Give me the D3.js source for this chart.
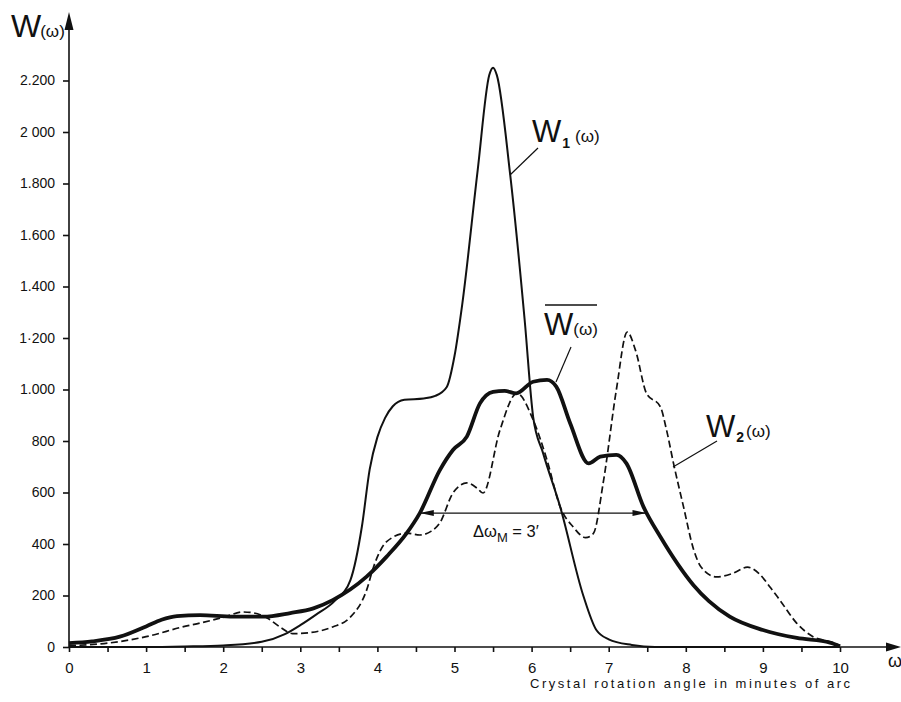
<!DOCTYPE html>
<html>
<head>
<meta charset="utf-8">
<script src="https://cdn.jsdelivr.net/npm/d3@7"></script>
<style>
  body { margin: 0; background: #fff; }
  svg { display: block; }
  text { font-family: "Liberation Sans", "DejaVu Sans", sans-serif; fill: #111; }
</style>
</head>
<body>
<div id="chart"></div>
<script>
// x values (minutes of arc) and intensities
const w1X = [0, 1, 1.5, 2, 2.5, 2.8, 3.0, 3.2, 3.45, 3.65, 3.8, 3.9, 4.0, 4.1, 4.2, 4.35, 4.6, 4.75, 4.9, 5.0, 5.1, 5.3, 5.45, 5.5, 5.55, 5.72, 5.91, 6.02, 6.15, 6.37, 6.67, 6.84, 7.0, 7.3, 7.6, 10]
const w1Y = [0, 0, 2, 6, 20, 50, 85, 125, 180, 260, 470, 690, 815, 890, 935, 960, 965, 975, 1010, 1130, 1330, 1850, 2220, 2250, 2220, 1840, 1270, 894, 752, 545, 200, 66, 30, 8, 0, 0]

const w2X = [0, 0.5, 1.0, 1.5, 1.7, 2.0, 2.26, 2.4, 2.57, 2.75, 2.9, 3.1, 3.42, 3.64, 3.86, 3.95, 4.12, 4.38, 4.55, 4.7, 4.81, 4.98, 5.16, 5.3, 5.37, 5.59, 5.81, 6.02, 6.2, 6.37, 6.54, 6.7, 6.8, 6.93, 7.1, 7.24, 7.35, 7.49, 7.67, 7.75, 7.84, 7.97, 8.1, 8.2, 8.4, 8.6, 8.8, 8.95, 9.1, 9.22, 9.44, 9.65, 9.87, 10]
const w2Y = [5, 15, 40, 80, 93, 115, 136, 132, 113, 75, 52, 55, 78, 113, 221, 311, 409, 442, 435, 450, 482, 598, 637, 615, 598, 843, 985, 882, 726, 545, 466, 425, 440, 640, 1000, 1223, 1150, 985, 933, 843, 714, 545, 380, 310, 272, 285, 310, 285, 230, 182, 92, 40, 20, 5]

const wbX = [0, 0.3, 0.66, 1.0, 1.2, 1.4, 1.7, 2.13, 2.52, 2.87, 3.17, 3.42, 3.86, 4.12, 4.38, 4.55, 4.81, 4.98, 5.16, 5.33, 5.5, 5.65, 5.8, 6.02, 6.2, 6.32, 6.5, 6.74, 6.89, 7.1, 7.23, 7.45, 7.67, 7.9, 8.1, 8.3, 8.57, 9.0, 9.44, 9.87, 10]
const wbY = [15, 22, 40, 80, 106, 120, 124, 118, 118, 132, 150, 182, 273, 351, 442, 520, 687, 765, 817, 946, 991, 995, 985, 1030, 1037, 1011, 869, 713, 739, 746, 713, 545, 428, 320, 240, 178, 118, 66, 35, 17, 3]

const yTicks = [0, 200, 400, 600, 800, 1000, 1200, 1400, 1600, 1800, 2000, 2200]
const yTickLabels = ['0', '200', '400', '600', '800', '1.000', '1·200', '1.400', '1.600', '1.800', '2 000', '2.200']
const xTicks = [0, 1, 2, 3, 4, 5, 6, 7, 8, 9, 10]
const xMinor = [0.5, 1.5, 2.5, 3.5, 4.5, 5.5, 6.5, 7.5, 8.5, 9.5]

// half-maximum width of W-bar
const fwhmX = [4.55, 7.49]
const fwhmLevel = 520

const svg = d3.select('#chart').append('svg')
    .attr('width', 901)
    .attr('height', 702)

const xScale = d3.scaleLinear().domain([0, 10]).range([69, 840])
const yScale = d3.scaleLinear().domain([0, 2200]).range([647, 80.5])

// axes
const xAxisGen = d3.axisBottom(xScale).tickValues(xTicks).tickSize(5).tickSizeOuter(0).tickPadding(10)
const xAxis = svg.append('g')
    .attr('transform', `translate(0, ${yScale(0)})`)
    .call(xAxisGen)
xAxis.select('.domain').remove()
xAxis.selectAll('line').attr('stroke', '#111').attr('stroke-width', 1.6)
xAxis.selectAll('text').style('font-size', '15px').style('font-family', '"Liberation Sans", sans-serif').attr('fill', '#111')

svg.append('g')
    .attr('transform', `translate(0, ${yScale(0)})`)
    .call(d3.axisBottom(xScale).tickValues(xMinor).tickSize(5).tickFormat(''))
    .call(g => g.select('.domain').remove())
    .selectAll('line').attr('stroke', '#111').attr('stroke-width', 1.6)

const yAxisGen = d3.axisLeft(yScale).tickValues(yTicks).tickSize(6).tickPadding(8)
    .tickFormat((d, i) => yTickLabels[i])
const yAxis = svg.append('g')
    .attr('transform', `translate(${xScale(0)}, 0)`)
    .call(yAxisGen)
yAxis.select('.domain').remove()
yAxis.selectAll('line').attr('stroke', '#111').attr('stroke-width', 1.6)
yAxis.selectAll('text').style('font-size', '14px').style('font-family', '"Liberation Sans", sans-serif').attr('fill', '#111')

// axis lines with arrows
svg.append('line')
    .attr('x1', xScale(0)).attr('x2', 892)
    .attr('y1', yScale(0)).attr('y2', yScale(0))
    .attr('stroke', '#111').attr('stroke-width', 1.6)
svg.append('path')
    .attr('d', `M901,${yScale(0)} L886,${yScale(0) - 4.5} L886,${yScale(0) + 4.5} Z`)
    .attr('fill', '#111')
svg.append('line')
    .attr('x1', xScale(0)).attr('x2', xScale(0))
    .attr('y1', yScale(0)).attr('y2', 22)
    .attr('stroke', '#111').attr('stroke-width', 1.6)
svg.append('path')
    .attr('d', `M${xScale(0)},12 L${xScale(0) - 4.5},30 L${xScale(0) + 4.5},30 Z`)
    .attr('fill', '#111')

// axis labels
const yLab = svg.append('text').attr('x', 11).attr('y', 37)
yLab.append('tspan').style('font-size', '32px').style('font-weight', 300).text('W')
yLab.append('tspan').style('font-size', '17px').attr('dx', -1).text('(ω)')

svg.append('text').attr('x', 888).attr('y', 667)
    .style('font-size', '18px').text('ω')

svg.append('text').attr('x', 530).attr('y', 688)
    .style('font-size', '13px')
    .attr('textLength', 320).attr('lengthAdjust', 'spacing')
    .text('Crystal rotation angle in minutes of arc')

// curves
const line = d3.line()
    .x(d => xScale(d[0]))
    .y(d => yScale(d[1]))
    .curve(d3.curveMonotoneX)

const w1 = d3.zip(w1X, w1Y)
const w2 = d3.zip(w2X, w2Y)
const wb = d3.zip(wbX, wbY)

svg.append('path')
    .attr('d', line(w2))
    .attr('fill', 'none')
    .attr('stroke', '#111')
    .attr('stroke-width', 1.7)
    .attr('stroke-dasharray', '7,3.5')

svg.append('path')
    .attr('d', line(w1))
    .attr('fill', 'none')
    .attr('stroke', '#111')
    .attr('stroke-width', 2)

svg.append('path')
    .attr('d', line(wb))
    .attr('fill', 'none')
    .attr('stroke', '#111')
    .attr('stroke-width', 3.8)
    .attr('stroke-linejoin', 'round')

// half-width arrow
const ay = yScale(fwhmLevel)
const ax1 = xScale(fwhmX[0]), ax2 = xScale(fwhmX[1])
svg.append('line')
    .attr('x1', ax1).attr('x2', ax2)
    .attr('y1', ay).attr('y2', ay)
    .attr('stroke', '#111').attr('stroke-width', 1.2)
svg.append('path')
    .attr('d', `M${ax1},${ay} L${ax1 + 14},${ay - 3} L${ax1 + 14},${ay + 3} Z`)
    .attr('fill', '#111')
svg.append('path')
    .attr('d', `M${ax2},${ay} L${ax2 - 14},${ay - 3} L${ax2 - 14},${ay + 3} Z`)
    .attr('fill', '#111')

const dl = svg.append('text').attr('x', 473).attr('y', 537).style('font-size', '16.5px')
dl.append('tspan').text('Δω')
dl.append('tspan').attr('dy', 5).style('font-size', '13px').text('M')
dl.append('tspan').attr('dy', -5).text(' = 3′')

// curve labels with leader lines
const leaders = [
    [538, 148, 510, 175],
    [571, 347, 556, 382],
    [717, 441, 673, 467]
]
svg.selectAll('.leader')
    .data(leaders)
    .join('line')
    .attr('x1', d => d[0]).attr('y1', d => d[1])
    .attr('x2', d => d[2]).attr('y2', d => d[3])
    .attr('stroke', '#111').attr('stroke-width', 1.2)

const l1 = svg.append('text').attr('x', 532).attr('y', 142)
l1.append('tspan').style('font-size', '31px').style('font-weight', 300).text('W')
l1.append('tspan').attr('dy', 6).attr('dx', 1).style('font-size', '14px').style('font-weight', 'bold').text('1')
l1.append('tspan').attr('dy', -6).attr('dx', 5).style('font-size', '17px').text('(ω)')

const lb = svg.append('text').attr('x', 544).attr('y', 335)
lb.append('tspan').style('font-size', '31px').style('font-weight', 300).text('W')
lb.append('tspan').attr('dx', 0).style('font-size', '17px').text('(ω)')
svg.append('line')
    .attr('x1', 545).attr('x2', 597)
    .attr('y1', 305).attr('y2', 305)
    .attr('stroke', '#111').attr('stroke-width', 1.3)

const l2 = svg.append('text').attr('x', 706).attr('y', 437)
l2.append('tspan').style('font-size', '31px').style('font-weight', 300).text('W')
l2.append('tspan').attr('dy', 5).attr('dx', 1).style('font-size', '14px').style('font-weight', 'bold').text('2')
l2.append('tspan').attr('dy', -5).attr('dx', 2).style('font-size', '17px').text('(ω)')
</script>
</body>
</html>
